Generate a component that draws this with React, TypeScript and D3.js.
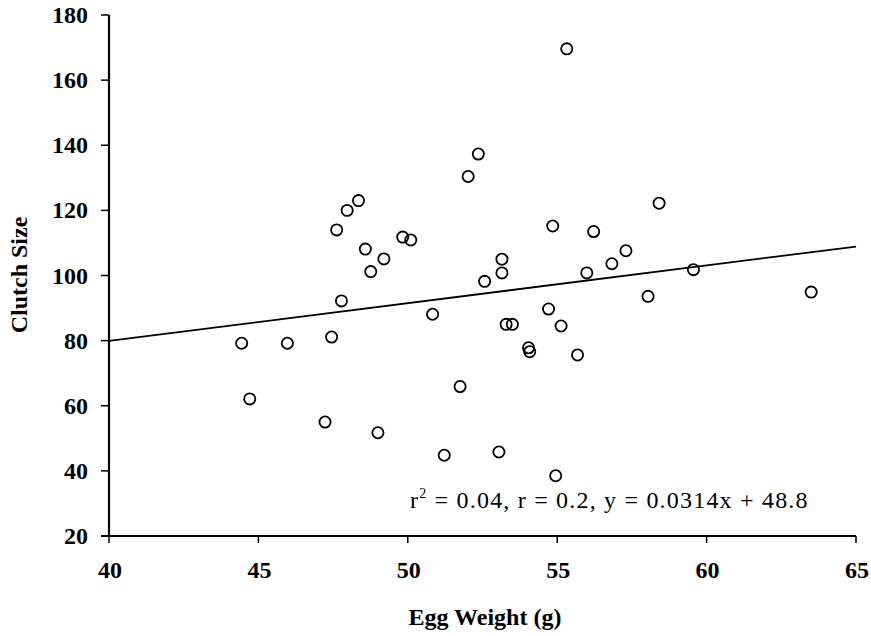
import React from "react";
import * as d3 from "d3";

const eggWeight = [
  44.44, 44.71, 45.97, 47.23, 47.45, 47.62, 47.78, 47.97, 48.35, 48.58, 48.76,
  49.0, 49.2, 49.83, 50.1, 50.83, 51.22, 51.75, 52.02, 52.36, 52.57, 53.05,
  53.15, 53.15, 53.29, 53.5, 54.04, 54.08, 54.71, 54.85, 54.95, 55.13, 55.32,
  55.68, 55.99, 56.22, 56.83, 57.3, 58.04, 58.41, 59.56, 63.5,
];
const clutchSize = [
  79.2, 62.1, 79.2, 55.0, 81.1, 114.0, 92.2, 120.0, 123.0, 108.1, 101.2, 51.7,
  105.1, 111.8, 110.9, 88.1, 44.8, 65.9, 130.4, 137.3, 98.2, 45.8, 100.8, 105.0,
  85.0, 85.0, 77.8, 76.6, 89.7, 115.2, 38.5, 84.5, 169.6, 75.6, 100.8, 113.5,
  103.6, 107.6, 93.6, 122.2, 101.8, 94.9,
];
const trendX = [40, 65];
const trendY = [79.9, 108.9];
const xTicks = [40, 45, 50, 55, 60, 65];
const yTicks = [20, 40, 60, 80, 100, 120, 140, 160, 180];
const xTitle = "Egg Weight (g)";
const yTitle = "Clutch Size";

const FONT = "'Liberation Serif', 'Times New Roman', serif";

export default function App() {
  const x = d3.scaleLinear().domain([40, 65]).range([109, 856]);
  const y = d3.scaleLinear().domain([20, 180]).range([536, 15]);
  const line = d3
    .line<number>()
    .x((d) => x(trendX[d]))
    .y((d) => y(trendY[d]));

  return (
    <svg
      width={871}
      height={636}
      style={{ position: "absolute", left: 0, top: 0, background: "#fff" }}
    >
      <rect width={871} height={636} fill="#fff" />
      {/* axes */}
      <line x1={x(40)} x2={x(40)} y1={y(180)} y2={y(20)} stroke="#000" strokeWidth={2.2} />
      <line x1={x(40) - 8} x2={x(65)} y1={y(20)} y2={y(20)} stroke="#000" strokeWidth={2.2} />
      {yTicks.map((t) => (
        <g key={"y" + t}>
          <line x1={x(40) - 8} x2={x(40)} y1={y(t)} y2={y(t)} stroke="#000" strokeWidth={1.5} />
          <text
            x={88}
            y={y(t) + 8}
            textAnchor="end"
            fontFamily={FONT}
            fontWeight="bold"
            fontSize={24}
            fill="#000"
          >
            {t}
          </text>
        </g>
      ))}
      {xTicks.map((t) => (
        <g key={"x" + t}>
          <line x1={x(t)} x2={x(t)} y1={y(20)} y2={y(20) + 7} stroke="#000" strokeWidth={1.5} />
          <text
            x={x(t) + 1}
            y={578}
            textAnchor="middle"
            fontFamily={FONT}
            fontWeight="bold"
            fontSize={24}
            fill="#000"
          >
            {t}
          </text>
        </g>
      ))}
      <text
        x={485}
        y={625}
        textAnchor="middle"
        fontFamily={FONT}
        fontWeight="bold"
        fontSize={24}
        fill="#000"
      >
        {xTitle}
      </text>
      <text
        transform={`translate(27, 275) rotate(-90)`}
        textAnchor="middle"
        fontFamily={FONT}
        fontWeight="bold"
        fontSize={24}
        fill="#000"
      >
        {yTitle}
      </text>
      {/* trend line */}
      <path d={line([0, 1]) || ""} fill="none" stroke="#000" strokeWidth={1.8} />
      {/* points */}
      {eggWeight.map((w, i) => (
        <circle
          key={i}
          cx={x(w)}
          cy={y(clutchSize[i])}
          r={5.6}
          fill="none"
          stroke="#000"
          strokeWidth={1.8}
        />
      ))}
      {/* equation */}
      <text x={410} y={508} fontFamily={FONT} fontSize={24} letterSpacing={1.2} fill="#000">
        <tspan>r</tspan>
        <tspan fontSize={14} dy={-10}>2</tspan>
        <tspan dy={10}> = 0.04, r = 0.2, y = 0.0314x + 48.8</tspan>
      </text>
    </svg>
  );
}
